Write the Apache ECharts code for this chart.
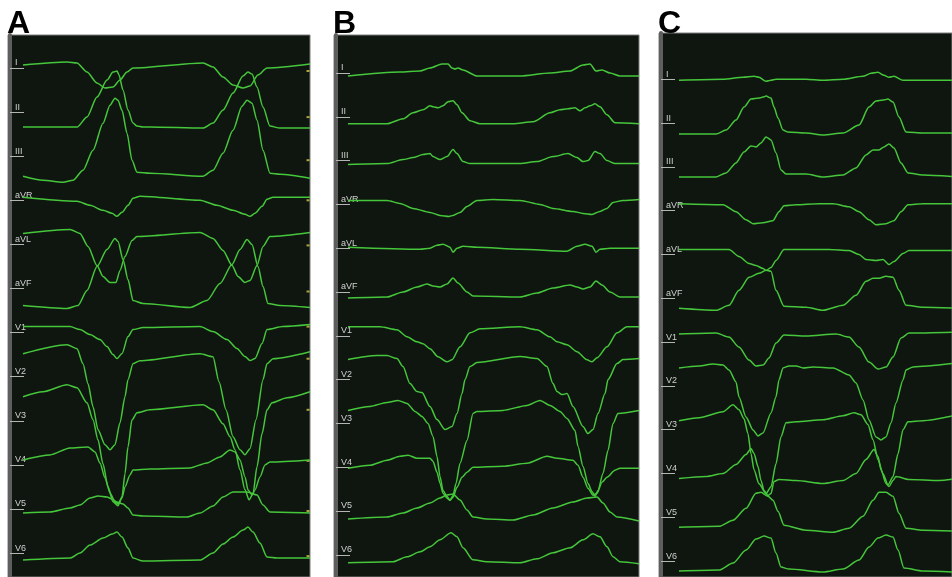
<!DOCTYPE html>
<html><head><meta charset="utf-8">
<script src="https://cdn.jsdelivr.net/npm/echarts@6/dist/echarts.min.js"></script>
<style>html,body{margin:0;padding:0;background:#fff}#c{width:952px;height:577px}</style>
</head><body><div id="c"></div>
<script>
// Lead names (tick labels)
const leadNames = ['I','II','III','aVR','aVL','aVF','V1','V2','V3','V4','V5','V6'];
const panelLetters = ['A','B','C'];

// Each trace: [time, amplitude] pairs, amplitude relative to the lead's baseline (up positive)
// ---------- Panel A ----------
const A_I   = [[15,3],[59,6],[69,5],[79,-4],[89,-15],[97,-20],[105,-19],[112,-12],[119,-4],[125,0],[195,5],[205,1],[215,-9],[225,-17],[235,-20],[242,-18],[250,-7],[259,0],[302,4]];
const A_II  = [[15,-15],[69,-15],[79,-5],[89,15],[99,32],[105,40],[109,41],[111,37],[115,22],[120,2],[125,-11],[129,-14],[135,-15],[142,-15],[195,-16],[205,-11],[215,2],[225,19],[235,36],[240,40],[244,38],[249,25],[255,5],[262,-14],[272,-16],[302,-16]];
const A_III = [[15,-20],[35,-24],[55,-26],[65,-24],[75,-14],[85,6],[95,33],[102,51],[107,58],[110,56],[114,46],[119,23],[124,-4],[129,-16],[142,-17],[195,-20],[205,-14],[215,3],[225,26],[234,50],[239,56],[244,53],[249,36],[255,6],[262,-17],[272,-18],[302,-22]];
const A_aVR = [[15,3],[69,-1],[82,-5],[95,-10],[104,-13],[109,-16],[114,-12],[120,-5],[125,2],[132,4],[192,0],[209,-5],[225,-10],[237,-14],[242,-16],[247,-13],[254,-6],[259,1],[265,3],[302,3]];
const A_aVL = [[15,11],[62,15],[72,11],[80,-2],[89,-21],[95,-32],[102,-38],[108,-38],[112,-26],[117,-12],[124,4],[129,8],[192,12],[205,6],[215,-6],[224,-21],[230,-32],[237,-38],[242,-36],[249,-21],[255,-2],[262,8],[302,12]];
const A_aVF = [[15,-17],[59,-20],[70,-17],[79,-2],[89,22],[99,39],[107,50],[110,47],[115,29],[120,9],[125,-12],[135,-15],[182,-19],[199,-12],[212,5],[224,24],[232,39],[239,49],[244,44],[250,22],[255,2],[260,-15],[272,-17],[302,-19]];
const A_V1  = [[15,6],[62,6],[72,3],[82,-2],[92,-7],[99,-14],[105,-22],[109,-26],[114,-21],[120,-4],[125,3],[135,5],[192,6],[205,1],[219,-7],[229,-16],[237,-24],[242,-28],[247,-26],[254,-11],[259,3],[275,6],[302,8]];
const A_V2  = [[15,23],[59,32],[69,28],[75,13],[80,-7],[85,-30],[90,-53],[97,-68],[102,-73],[107,-68],[112,-46],[117,-20],[120,-3],[125,13],[132,16],[192,23],[205,20],[211,-5],[218,-33],[225,-60],[232,-73],[237,-78],[242,-72],[248,-43],[255,-3],[259,13],[265,18],[302,25]];
const A_V3  = [[15,24],[35,29],[59,36],[69,33],[79,18],[85,1],[90,-19],[95,-43],[100,-66],[105,-81],[110,-85],[114,-76],[117,-53],[120,-26],[124,1],[129,8],[142,11],[195,16],[205,11],[215,-3],[222,-16],[227,-29],[232,-49],[237,-69],[241,-79],[245,-73],[249,-46],[254,-13],[259,11],[264,18],[279,23],[302,29]];
const A_V4  = [[15,5],[42,10],[62,17],[80,18],[87,13],[92,2],[97,-13],[102,-28],[107,-37],[110,-39],[114,-33],[117,-22],[122,-10],[125,-5],[142,-4],[182,-3],[199,2],[212,8],[222,15],[227,13],[232,5],[237,-12],[240,-25],[244,-30],[247,-25],[252,-12],[257,0],[262,3],[302,5]];
const A_V5  = [[15,-4],[42,-3],[62,1],[72,4],[82,11],[90,13],[99,12],[104,10],[109,7],[115,5],[120,1],[125,-6],[135,-7],[179,-8],[192,-4],[205,3],[215,12],[225,17],[239,17],[249,14],[255,4],[262,-3],[302,-4]];
const A_V6  = [[15,-7],[62,-5],[72,0],[82,8],[95,15],[104,19],[109,21],[114,16],[120,5],[125,-5],[135,-8],[192,-7],[205,0],[215,9],[225,16],[235,23],[240,26],[245,21],[252,10],[259,-4],[269,-5],[302,-5]];
const A_calib = [-3,-5,-4,0,-1,-3,6,18,11,4,-2,-3];

// ---------- Panel B ----------
const B_I   = [[14,-3],[66,1],[86,2],[96,5],[108,9],[114,9],[118,5],[121,4],[124,5],[129,3],[143,-3],[186,-3],[216,0],[236,2],[249,8],[256,9],[262,2],[268,3],[276,0],[286,-3],[305,-3]];
const B_II  = [[14,-7],[53,-7],[69,-2],[79,4],[89,7],[96,11],[99,10],[104,9],[109,11],[114,15],[119,16],[123,12],[128,4],[136,-4],[146,-7],[179,-7],[199,-5],[216,4],[226,7],[234,8],[241,9],[246,6],[251,9],[256,11],[261,13],[266,10],[273,2],[281,-6],[305,-7]];
const B_III = [[14,-4],[53,-3],[69,1],[79,3],[89,6],[96,7],[99,4],[106,1],[113,4],[119,11],[123,7],[129,-1],[136,-3],[186,-3],[203,-1],[219,4],[234,7],[243,3],[249,-1],[254,0],[261,9],[266,7],[273,0],[281,-3],[305,-3]];
const B_aVR = [[14,4],[53,4],[66,1],[79,-4],[96,-8],[106,-11],[115,-12],[119,-11],[126,-8],[133,-2],[143,4],[159,5],[186,4],[206,0],[219,-4],[239,-7],[249,-9],[258,-10],[266,-7],[273,-4],[279,2],[289,4],[305,5]];
const B_aVL = [[14,1],[86,-1],[96,0],[103,3],[109,4],[116,1],[119,-4],[123,0],[129,2],[143,1],[186,-1],[233,-3],[243,2],[251,4],[258,2],[262,-4],[266,-1],[276,0],[305,0]];
const B_aVF = [[14,-6],[53,-5],[69,0],[83,5],[93,8],[99,6],[106,5],[113,8],[119,14],[124,9],[133,0],[139,-4],[186,-5],[203,-1],[219,4],[236,7],[243,5],[249,3],[256,5],[262,11],[268,7],[276,0],[286,-5],[305,-5]];
const B_V1  = [[14,9],[46,9],[63,6],[73,-1],[83,-6],[89,-8],[96,-13],[104,-21],[113,-26],[118,-24],[126,-11],[136,3],[146,7],[186,9],[203,6],[216,-1],[223,-6],[233,-9],[243,-16],[253,-24],[258,-26],[263,-22],[273,-11],[283,3],[293,9],[305,9]];
const B_V2  = [[14,20],[43,24],[53,24],[63,21],[69,13],[76,-4],[83,-12],[88,-13],[96,-27],[103,-40],[111,-50],[118,-47],[123,-34],[128,-14],[131,0],[136,13],[143,17],[186,23],[203,21],[213,13],[219,-4],[223,-12],[228,-15],[233,-14],[239,-27],[249,-47],[254,-54],[259,-50],[264,-34],[271,-14],[274,0],[283,16],[289,20],[305,21]];
const B_V3  = [[14,13],[36,17],[53,21],[64,23],[73,20],[81,12],[88,7],[94,0],[99,-13],[103,-33],[106,-53],[109,-67],[113,-73],[116,-77],[119,-72],[122,-60],[126,-40],[133,-17],[139,10],[143,12],[169,13],[193,18],[206,23],[216,18],[226,12],[233,5],[241,-7],[244,-23],[249,-43],[254,-60],[258,-68],[261,-73],[264,-67],[269,-50],[274,-27],[279,0],[284,10],[305,13]];
const B_V4  = [[14,-1],[36,2],[53,7],[66,11],[74,12],[83,9],[96,9],[99,6],[103,-5],[106,-16],[109,-26],[113,-31],[116,-33],[119,-30],[123,-20],[128,-10],[133,-5],[139,0],[169,1],[193,4],[213,11],[223,9],[239,7],[244,2],[249,-10],[254,-21],[259,-28],[263,-26],[268,-15],[273,-10],[281,-3],[286,-1],[305,-1]];
const B_V5  = [[14,-8],[53,-6],[69,-2],[83,3],[96,8],[106,13],[113,16],[119,17],[126,11],[133,1],[139,-6],[153,-8],[179,-9],[199,-4],[219,3],[239,9],[253,13],[263,14],[269,8],[276,-1],[283,-6],[305,-10]];
const B_V6  = [[14,-8],[59,-7],[73,-2],[86,3],[96,8],[106,15],[117,22],[123,18],[129,7],[139,-5],[153,-7],[186,-8],[203,-4],[219,2],[236,7],[249,15],[259,21],[266,18],[273,8],[279,-2],[286,-7],[305,-9]];

// ---------- Panel C ----------
const C_I   = [[20,-1],[64,0],[84,2],[95,3],[100,2],[107,-2],[112,-1],[117,0],[147,0],[164,-1],[184,0],[204,3],[212,6],[219,7],[225,4],[230,2],[235,3],[244,-1],[264,-1],[299,-1]];
const C_II  = [[20,-11],[57,-11],[67,-7],[77,3],[85,16],[92,24],[100,25],[104,26],[107,27],[112,25],[115,16],[119,5],[124,-7],[129,-9],[147,-10],[164,-12],[184,-10],[200,-2],[210,16],[217,22],[224,23],[229,24],[234,21],[240,6],[247,-9],[264,-10],[299,-10]];
const C_III = [[20,-10],[57,-10],[67,-6],[77,4],[85,15],[92,21],[97,20],[102,24],[107,30],[112,27],[117,14],[122,-3],[127,-7],[147,-7],[164,-10],[184,-8],[197,-1],[207,12],[214,17],[220,17],[225,20],[230,23],[235,19],[242,4],[249,-6],[264,-8],[299,-10]];
const C_aVR = [[20,7],[64,6],[77,-1],[87,-9],[94,-13],[104,-12],[114,-10],[120,-1],[125,5],[137,6],[160,7],[174,7],[190,4],[200,-1],[210,-9],[217,-14],[227,-13],[235,-10],[242,-1],[249,6],[264,7],[299,7]];
const C_aVL = [[20,5],[70,5],[80,-2],[90,-9],[97,-11],[104,-14],[107,-16],[112,-13],[117,-6],[125,5],[147,5],[170,5],[190,4],[200,0],[207,-5],[217,-6],[224,-5],[230,-10],[235,-7],[244,1],[250,4],[299,4]];
const C_aVF = [[20,-10],[57,-12],[70,-7],[80,8],[90,21],[100,25],[107,28],[112,27],[117,8],[125,-8],[147,-9],[164,-12],[184,-7],[197,3],[207,17],[214,20],[220,20],[227,22],[234,21],[240,8],[247,-7],[264,-9],[299,-10]];
const C_V1  = [[20,8],[57,9],[70,5],[80,-5],[90,-18],[97,-24],[104,-23],[110,-16],[117,-1],[125,7],[147,6],[177,8],[190,5],[200,-5],[210,-20],[219,-27],[227,-25],[234,-15],[242,4],[250,9],[299,10]];
const C_V2  = [[20,18],[40,20],[54,22],[64,21],[70,16],[77,4],[80,-11],[87,-31],[94,-44],[99,-50],[104,-47],[112,-27],[117,-11],[120,6],[124,18],[130,20],[137,20],[144,18],[154,19],[174,18],[190,11],[197,3],[204,-14],[210,-34],[217,-51],[222,-54],[227,-51],[232,-37],[237,-17],[244,6],[247,16],[254,19],[299,23]];
const C_V3  = [[20,9],[40,12],[64,18],[74,25],[80,20],[85,11],[89,-4],[92,-24],[95,-40],[100,-54],[107,-64],[112,-57],[117,-34],[122,-7],[127,7],[137,8],[164,10],[184,14],[195,17],[202,15],[209,5],[214,-10],[219,-30],[224,-44],[229,-55],[234,-47],[239,-24],[244,0],[249,8],[264,9],[299,15]];
const C_V4  = [[20,-5],[47,-3],[64,0],[77,9],[87,19],[92,25],[95,20],[99,7],[102,-7],[105,-17],[109,-22],[112,-20],[115,-8],[120,-6],[137,-7],[164,-10],[184,-7],[197,0],[207,14],[215,24],[219,17],[222,4],[227,-10],[230,-13],[234,-7],[237,-3],[250,-6],[280,-7],[299,-5]];
const C_V5  = [[20,-10],[60,-9],[74,-3],[87,9],[97,24],[102,25],[109,21],[114,17],[119,6],[125,-8],[147,-13],[174,-15],[190,-11],[204,1],[214,17],[220,25],[227,25],[234,21],[240,4],[247,-11],[264,-13],[299,-14]];
const C_V6  = [[20,-10],[60,-9],[74,-2],[87,11],[97,22],[105,25],[112,23],[117,8],[122,-6],[130,-8],[164,-11],[184,-8],[200,1],[210,14],[219,23],[227,26],[234,24],[239,11],[245,-7],[264,-10],[299,-11]];

// ---------- layout (separate from data) ----------
const panels = [
  {leads:[A_I,A_II,A_III,A_aVR,A_aVL,A_aVF,A_V1,A_V2,A_V3,A_V4,A_V5,A_V6], calib:A_calib,
   left:8, top:35, width:302, height:542, first:33, step:44.1},
  {leads:[B_I,B_II,B_III,B_aVR,B_aVL,B_aVF,B_V1,B_V2,B_V3,B_V4,B_V5,B_V6], calib:null,
   left:334, top:35, width:305, height:542, first:38, step:43.8},
  {leads:[C_I,C_II,C_III,C_aVR,C_aVL,C_aVF,C_V1,C_V2,C_V3,C_V4,C_V5,C_V6], calib:null,
   left:659, top:33, width:293, height:544, first:46.3, step:43.8}
];

const TRACE = '#46c63b';
const grids = [], xAxes = [], yAxes = [], series = [], titles = [];
panels.forEach((p, pi) => {
  const bases = leadNames.map((_, i) => p.first + i * p.step);
  grids.push({left:p.left, top:p.top, width:p.width, height:p.height, show:true,
    backgroundColor:'#0f1610', borderColor:'#7c7c7c', borderWidth:1});
  xAxes.push({gridIndex:pi, type:'value', min:0, max:p.width, show:false});
  yAxes.push({gridIndex:pi, type:'value', inverse:true, min:0, max:p.height, offset:-2,
    splitLine:{show:false},
    axisLine:{show:true, onZero:false, lineStyle:{color:'#5e5e5e', width:4}},
    axisTick:{show:true, inside:true, length:14, customValues:bases, lineStyle:{color:'#b5b5b5', width:1}},
    axisLabel:{show:true, inside:true, customValues:bases, margin:5, color:'#d0d0d0', fontSize:9,
      fontFamily:'Liberation Sans, Arial, sans-serif', verticalAlign:'bottom', lineHeight:10,
      formatter:(v) => { const k = bases.findIndex(b => Math.abs(b - v) < 0.5); return k >= 0 ? leadNames[k] : ''; }}
  });
  p.leads.forEach((lead, li) => {
    series.push({type:'line', xAxisIndex:pi, yAxisIndex:pi, name:panelLetters[pi] + ' ' + leadNames[li],
      data: lead.map(([t, a]) => [t, bases[li] - a]),
      showSymbol:false, smooth:0.25, smoothMonotone:'x', clip:true, silent:true,
      lineStyle:{color:TRACE, width:1.5}});
  });
  if (p.calib) {
    series.push({type:'scatter', xAxisIndex:pi, yAxisIndex:pi, silent:true,
      data: p.calib.map((a, i) => [p.width - 2, bases[i] - a]),
      symbol:'rect', symbolSize:[3,2], itemStyle:{color:'#d6c646'}});
  }
  titles.push({text:panelLetters[pi], left:p.left - 1, top:8, padding:0,
    textStyle:{fontSize:32, fontWeight:'bold', color:'#000', fontFamily:'Liberation Sans, Arial, sans-serif'}});
});

const chart = echarts.init(document.getElementById('c'), null, {renderer:'canvas'});
chart.setOption({animation:false, backgroundColor:'#ffffff', title:titles,
  grid:grids, xAxis:xAxes, yAxis:yAxes, series:series});
</script></body></html>
